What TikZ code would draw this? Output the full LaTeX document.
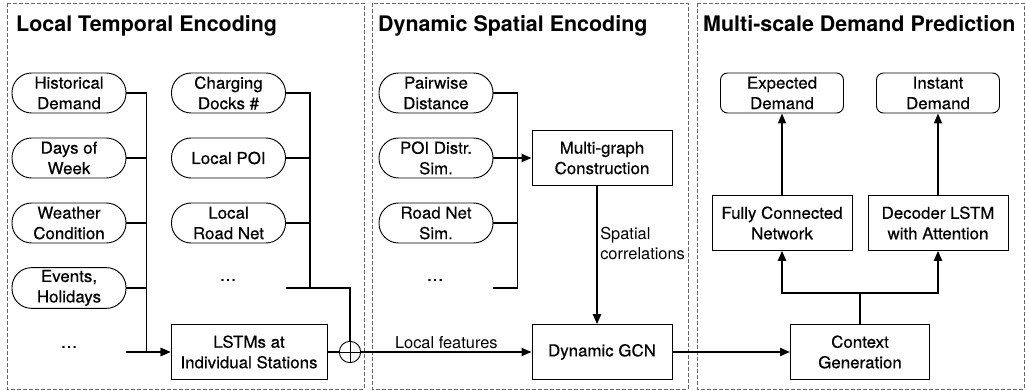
\documentclass[tikz,border=0pt]{standalone}
\usepackage{fontspec}
\setmainfont{TeX Gyre Heros}
\newfontfamily\medfont[FakeBold=0.45,FakeStretch=1.03]{TeX Gyre Heros}
\usetikzlibrary{arrows.meta,positioning}
\newcommand{\boxfont}{\medfont\fontsize{14}{17.5}\selectfont}

\begin{document}
\begin{tikzpicture}[
  x=0.3mm, y=-0.3mm,
  font=\fontsize{14}{17}\selectfont,
  pill/.style={draw, rounded corners=5.9mm, align=center, inner sep=2pt, minimum width=34.2mm, minimum height=12mm, line width=0.8pt, font=\boxfont},
  gap/.style={align=center, inner sep=0pt, font=\boxfont},
  box/.style={draw, align=center, inner sep=3pt, minimum width=42mm, minimum height=16.4mm, line width=0.8pt, font=\boxfont},
  goal/.style={box, rounded corners=2.1mm, minimum width=36.9mm, minimum height=12mm},
  title/.style={anchor=base west, font=\fontsize{18.3}{22}\selectfont\bfseries, inner sep=0pt},
  panel/.style={draw=black!60, dash pattern=on 1.2mm off 0.6mm, line width=0.8pt},
  ln/.style={line width=1.6pt},
  ar/.style={ln, -{Triangle[length=3mm,width=2.4mm]}},
  lbl/.style={align=left, inner sep=2pt, font=\fontsize{14}{17}\selectfont}
]
  \useasboundingbox (0,0) rectangle (1026,391);

  % the three stages
  \draw[panel] (7,3) rectangle (364,389);
  \draw[panel] (372,3) rectangle (688,389);
  \draw[panel] (697,3) rectangle (1024,389);
  \node[title] (t1) at (16,32) {Local Temporal Encoding};
  \node[title] (t2) at (378,32) {Dynamic Spatial Encoding};
  \node[title] (t3) at (703,32) {Multi-scale Demand Prediction};

  % local temporal encoding
  \node[pill] (hist) at (69,93) {Historical\\Demand};
  \node[pill] (days) at (69,158) {Days of\\Week};
  \node[pill] (weather) at (69,223) {Weather\\Condition};
  \node[pill] (events) at (69,288) {Events,\\Holidays};
  \node[gap] (dots1) at (69,347) {\dots};
  \coordinate (in1) at (126,352);

  \node[pill] (docks) at (228.5,93) {Charging\\Docks \#};
  \node[pill] (lpoi) at (228.5,158) {Local POI};
  \node[pill] (lroad) at (228.5,223) {Local\\Road Net};
  \node[gap] (dots2) at (228,280) {\dots};
  \coordinate (in2) at (286,288);

  \node[box, minimum width=46.8mm] (lstm) at (249,352) {LSTMs at\\Individual Stations};
  \node[circle, draw, line width=0.8pt, minimum size=6.4mm, inner sep=0pt,
        path picture={\draw[line width=0.8pt] (path picture bounding box.north) -- (path picture bounding box.south)
                      (path picture bounding box.west) -- (path picture bounding box.east);}] (oplus) at (350,352) {};

  \draw[ar] (hist.east) -- ++(20,0) |- (lstm.west);
  \draw[ln] (days.east) -- ++(20,0);
  \draw[ln] (weather.east) -- ++(20,0);
  \draw[ln] (events.east) -- ++(20,0);
  \draw[ar] (in1) -- (lstm.west);
  \draw[ln] (docks.east) -- ++(24,0) |- (in2);
  \draw[ln] (lpoi.east) -- ++(24,0);
  \draw[ln] (lroad.east) -- ++(24,0);
  \draw[ln] (in2) -| (oplus.north);
  \draw[ln] (lstm.east) -- (oplus.west);

  % dynamic spatial encoding
  \node[pill] (pair) at (436,93) {Pairwise\\Distance};
  \node[pill] (poisim) at (436,158) {POI Distr.\\Sim.};
  \node[pill] (roadsim) at (436,223) {Road Net\\Sim.};
  \node[gap] (dots3) at (435,280) {\dots};
  \coordinate (in3) at (493,288);

  \node[box] (graph) at (602,158) {Multi-graph\\Construction};
  \node[box] (gcn) at (602,352) {Dynamic GCN};

  \draw[ln] (pair.east) -- ++(24,0) |- (in3);
  \draw[ar] (poisim.east) -- (graph.west);
  \draw[ln] (roadsim.east) -- ++(24,0);
  \draw[ar] ([xshift=-1.5mm]graph.south) -- node[lbl, right, pos=0.42] {Spatial\\correlations} ([xshift=-1.5mm]gcn.north);
  \draw[ar] (oplus.east) -- node[lbl, above] {Local features} (gcn.west);

  % multi-scale demand prediction
  \node[goal] (expd) at (782,93) {Expected\\Demand};
  \node[goal] (inst) at (938,93) {Instant\\Demand};
  \node[box] (fcn) at (782,223) {Fully Connected\\Network};
  \node[box] (dec) at (938,223) {Decoder LSTM\\with Attention};
  \node[box, minimum width=41.7mm] (ctx) at (860,352) {Context\\Generation};

  \draw[ar] (gcn) -- (ctx);
  \draw[ln] (ctx.north) -- ++(0,-31) coordinate (split);
  \draw[ar] (split) -| (fcn.south);
  \draw[ar] (split) -| (dec.south);
  \draw[ar] (fcn) -- (expd);
  \draw[ar] (dec) -- (inst);
\end{tikzpicture}
\end{document}
